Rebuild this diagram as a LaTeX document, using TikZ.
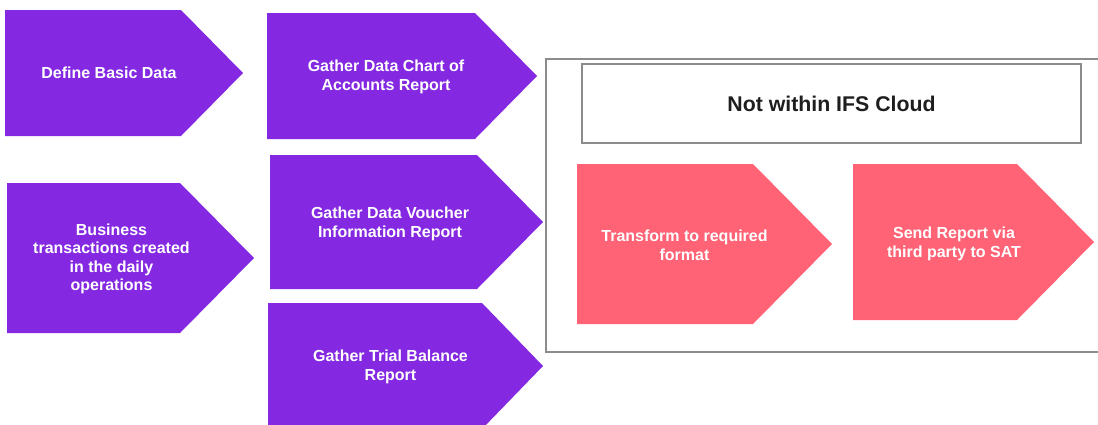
\documentclass[tikz,border=0pt]{standalone}
\usepackage{fontspec}
\setmainfont{Liberation Sans}
\definecolor{purp}{RGB}{132,40,225}
\definecolor{pinkc}{RGB}{255,99,117}
\definecolor{framec}{RGB}{140,140,140}
\definecolor{darktext}{RGB}{30,30,30}
\newcommand{\chevron}[6]{\fill[#1] (#2,#3) -- (#5,#3) -- (#6,{(#3+#4)/2}) -- (#5,#4) -- (#2,#4) -- cycle;}
\begin{document}
\begin{tikzpicture}[x=1pt,y=-1pt,
  purpfill/.style={fill=purp},
  pinkfill/.style={fill=pinkc},
  lbl/.style={text=white,font=\bfseries\fontsize{16}{18.3}\selectfont,align=center,inner sep=0pt},
  plbl/.style={lbl,font=\bfseries\fontsize{16}{18.8}\selectfont},
  framebox/.style={draw=framec,inner sep=0pt}
  ]
\useasboundingbox (0,0) rectangle (1098,424);
\begin{scope}
\clip (0,0) rectangle (1098,424);
% outer frame
\node[framebox,line width=2pt,minimum width=564pt,minimum height=293pt] (outer) at (828,205.5) {};
% purple chevrons
\chevron{purpfill}{5}{10}{136}{181}{243}
\chevron{purpfill}{267}{13}{139}{475}{537}
\chevron{purpfill}{7}{183}{333}{180}{254}
\chevron{purpfill}{270}{155}{289}{477}{543}
\chevron{purpfill}{268}{303}{429}{482}{543}
% pink chevrons
\chevron{pinkfill}{577}{164}{324}{753}{832}
\chevron{pinkfill}{853}{164}{320}{1017}{1094}
\end{scope}
% title box
\node[framebox,line width=2.5pt,minimum width=499pt,minimum height=79pt,
  text=darktext,font=\bfseries\fontsize{21.3}{24}\selectfont] (title) at (831.5,103.5) {Not within IFS Cloud};
% labels
\node[lbl] (n1) at (109,73) {Define Basic Data};
\node[lbl] (n2) at (386,77) {Gather Data Chart of\\Accounts Report};
\node[lbl] (n3) at (111.5,259) {Business\\transactions created\\in the daily\\operations};
\node[lbl] (n4) at (390,224) {Gather Data Voucher\\Information Report};
\node[lbl] (n5) at (390.5,367) {Gather Trial Balance\\Report};
\node[plbl] (p1) at (684.5,245) {Transform to required\\format};
\node[plbl] (p2) at (954,244) {Send Report via\\third party to SAT};
\end{tikzpicture}
\end{document}
